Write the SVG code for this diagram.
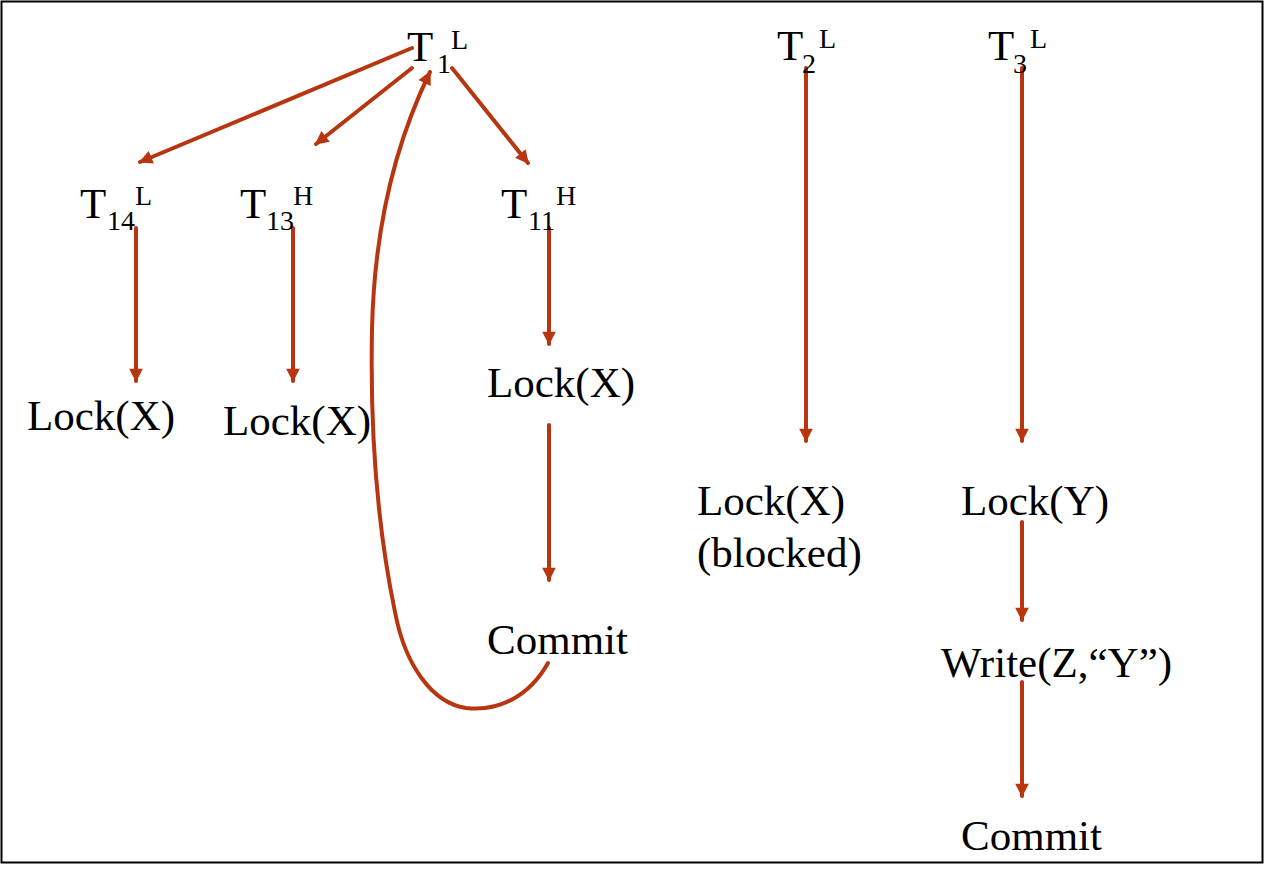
<svg xmlns="http://www.w3.org/2000/svg" width="1265" height="871" viewBox="0 0 1265 871">
  <defs>
    <marker id="ah" viewBox="0 0 10 10" refX="9" refY="5" markerWidth="3.6" markerHeight="3.4" orient="auto" markerUnits="strokeWidth">
      <path d="M0,0 L10,5 L0,10 z" fill="#B8360F"/>
    </marker>
    <style>
      text { font-family: "Liberation Serif", "Times New Roman", serif; fill: #000; }
      .t { font-size: 43px; }
      .s { font-size: 28px; }
      .edge { stroke: #B8360F; stroke-width: 4; fill: none; stroke-linecap: round; }
      .arr { marker-end: url(#ah); }
    </style>
  </defs>

  <rect x="1.5" y="1.5" width="1261" height="861" fill="#fff" stroke="#000" stroke-width="2"/>

  <!-- connectors -->
  <g id="connectors">
    <path class="edge arr" d="M412,48 L140,162"/>
    <path class="edge arr" d="M412,68 L316,144"/>
    <path class="edge arr" d="M452,68 L528,163"/>
    <path class="edge arr" d="M548,663 C530,695 500,712 466,708 C432,703 405,665 395,612 C378,530 370,430 372,330 C374,235 392,150 430,72"/>
    <path class="edge arr" d="M136,228 L136,381"/>
    <path class="edge arr" d="M293,228 L293,381"/>
    <path class="edge arr" d="M549,228 L549,344"/>
    <path class="edge arr" d="M549,425 L549,580"/>
    <path class="edge arr" d="M806,68 L806,441"/>
    <path class="edge arr" d="M1022,68 L1022,441"/>
    <path class="edge arr" d="M1022,522 L1022,620"/>
    <path class="edge arr" d="M1022,682 L1022,796"/>
  </g>

  <!-- transactions -->
  <g id="T1"><text class="t" x="407" y="61">T</text><text class="s" x="437" y="73">1</text><text class="s" x="451" y="49">L</text></g>
  <g id="T2"><text class="t" x="777" y="60">T</text><text class="s" x="802" y="73">2</text><text class="s" x="819" y="48">L</text></g>
  <g id="T3"><text class="t" x="988" y="60">T</text><text class="s" x="1013" y="73">3</text><text class="s" x="1030" y="48">L</text></g>
  <g id="T14"><text class="t" x="80" y="218">T</text><text class="s" x="107" y="230">14</text><text class="s" x="135" y="205">L</text></g>
  <g id="T13"><text class="t" x="240" y="218">T</text><text class="s" x="266" y="230">13</text><text class="s" x="293" y="205">H</text></g>
  <g id="T11"><text class="t" x="501" y="218">T</text><text class="s" x="528" y="230">11</text><text class="s" x="556" y="205">H</text></g>

  <!-- operations -->
  <g id="lock14"><text class="t" x="27" y="430">Lock(X)</text></g>
  <g id="lock13"><text class="t" x="223" y="435">Lock(X)</text></g>
  <g id="lock11"><text class="t" x="487" y="397">Lock(X)</text></g>
  <g id="commit11"><text class="t" x="487" y="654">Commit</text></g>
  <g id="lock2"><text class="t" x="697" y="515">Lock(X)</text><text class="t" x="697" y="567">(blocked)</text></g>
  <g id="lock3"><text class="t" x="961" y="515">Lock(Y)</text></g>
  <g id="write3"><text class="t" x="941" y="677">Write(Z,“Y”)</text></g>
  <g id="commit3"><text class="t" x="961" y="850">Commit</text></g>
</svg>
